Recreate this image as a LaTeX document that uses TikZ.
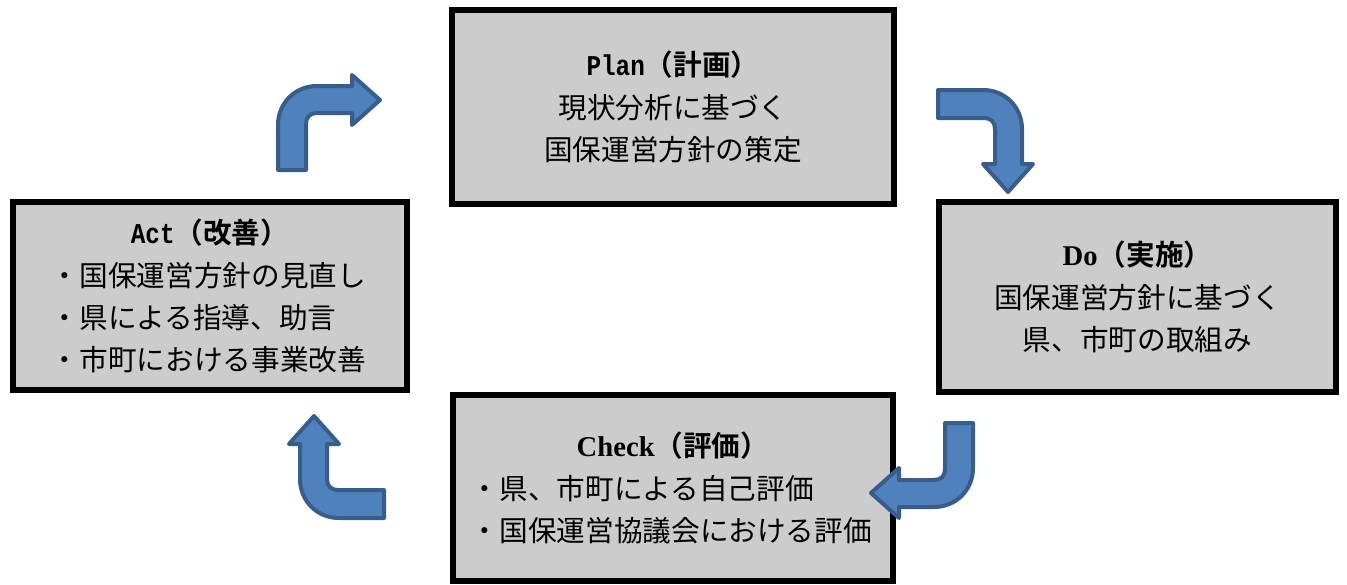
\documentclass[tikz,border=0pt]{standalone}
\usepackage{fontspec}
\setmainfont{Noto Sans CJK JP}[BoldFont={Noto Sans CJK JP Bold}]
\newfontfamily\monolat[FakeStretch=0.85]{Liberation Mono}
\newfontfamily\serilat{Liberation Serif}
\definecolor{turnfill}{HTML}{4F81BD}
\definecolor{turnline}{HTML}{385D8A}
\begin{document}
\begin{tikzpicture}[x=0.02cm,y=0.02cm,
phase/.style ={rectangle, draw=black, line width=0.12cm, fill=gray!40,
  inner sep=0pt, font=\fontsize{16.3}{24}\selectfont
},
turn/.style ={draw=turnline, fill=turnfill, line width=0.08cm,
  line join=round
},
bendarrow/.pic={
  \draw[turn] (0,0) -- (0,45) .. controls (0,67) and (17,84) .. (39,84)
    -- (74,84) -- (74,95) -- (102,70) -- (74,45) -- (74,57) -- (39,57)
    .. controls (32,57) and (28,53) .. (28,46) -- (28,0) -- cycle;
}]
\useasboundingbox (0,0) rectangle (1347,-585);
\node (plan) at (673,-107) [phase, minimum width=8.84cm, minimum height=3.87cm,
  align=center] {\textbf{\monolat Plan}\textbf{（計画）}\\現状分析に基づく\\国保運営方針の策定};
\node (do) at (1137.5,-297) [phase, minimum width=7.96cm, minimum height=3.81cm,
  align=center] {\textbf{\serilat Do}\textbf{（実施）}\\国保運営方針に基づく\\県、市町の取組み};
\node (check) at (673,-488) [phase, minimum width=8.82cm, minimum height=3.73cm,
  text width=230pt, align=left] {\makebox[\hsize]{\textbf{\serilat Check}\textbf{（評価）}}\\
  ・県、市町による自己評価\\・国保運営協議会における評価};
\node (act) at (210,-296) [phase, minimum width=7.9cm, minimum height=3.77cm,
  text width=181pt, align=left] {\makebox[\hsize]{\textbf{\monolat Act}\textbf{（改善）}}\\
  ・国保運営方針の見直し\\・県による指導、助言\\・市町における事業改善};
\pic at (278,-170) {bendarrow};
\pic[rotate=-90] at (938,-90) {bendarrow};
\pic[rotate=180] at (973,-423) {bendarrow};
\pic[rotate=90] at (384,-518) {bendarrow};
\end{tikzpicture}
\end{document}
